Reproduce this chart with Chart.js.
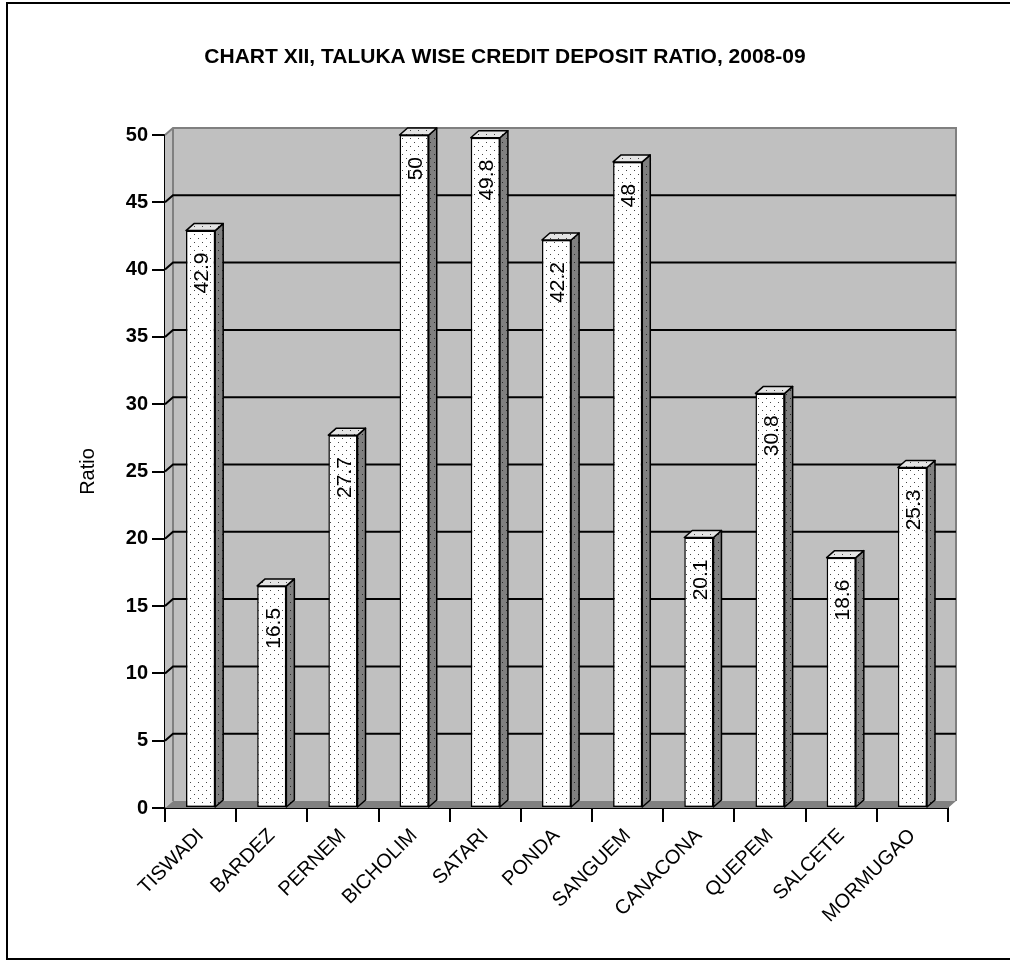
<!DOCTYPE html>
<html>
<head>
<meta charset="utf-8">
<script src="https://cdn.jsdelivr.net/npm/chart.js@4.4.1/dist/chart.umd.min.js"></script>
<style>
  html, body { margin: 0; padding: 0; background: #fff; }
  #wrap { width: 1010px; height: 960px; position: relative; }
</style>
</head>
<body>
<div id="wrap"><canvas id="cdChart"></canvas></div>
<script>
const talukas = ["TISWADI", "BARDEZ", "PERNEM", "BICHOLIM", "SATARI", "PONDA",
  "SANGUEM", "CANACONA", "QUEPEM", "SALCETE", "MORMUGAO"];
const cdRatio = [42.9, 16.5, 27.7, 50, 49.8, 42.2, 48, 20.1, 30.8, 18.6, 25.3];
const yMin = 0, yMax = 50, yStep = 5;
const chartTitle = "CHART XII, TALUKA WISE CREDIT DEPOSIT RATIO, 2008-09";

const FONT = "Arial, 'Liberation Sans', sans-serif";
const DX = 8, DY = 7; // depth offset of the 3d box

function dotPattern(bg, dot) {
  const c = document.createElement("canvas");
  c.width = 8; c.height = 8;
  const g = c.getContext("2d");
  g.fillStyle = bg; g.fillRect(0, 0, 8, 8);
  g.fillStyle = dot;
  g.fillRect(2, 2, 1, 1);
  g.fillRect(6, 6, 1, 1);
  return c;
}
const ctx = document.getElementById("cdChart").getContext("2d");
const frontFill = ctx.createPattern(dotPattern("#ffffff", "#444444"), "repeat");
const sideFill = ctx.createPattern(dotPattern("#808080", "#2a2a2a"), "repeat");
const topFill = ctx.createPattern(dotPattern("#e4e4e4", "#444444"), "repeat");

// back wall, left wall, floor, gridlines, bar depth faces and labels
const wallPlugin = {
  id: "walls",
  beforeDatasetsDraw(chart) {
    const { ctx, chartArea: a, scales: { y } } = chart;
    const y0 = y.getPixelForValue(yMin);
    const yTop = y.getPixelForValue(yMax);
    ctx.save();
    // back wall
    ctx.fillStyle = "#c0c0c0";
    ctx.fillRect(a.left + DX, yTop - DY, a.right - a.left, y0 - yTop);
    // left wall
    ctx.beginPath();
    ctx.moveTo(a.left, y0);
    ctx.lineTo(a.left, yTop);
    ctx.lineTo(a.left + DX, yTop - DY);
    ctx.lineTo(a.left + DX, y0 - DY);
    ctx.closePath();
    ctx.fillStyle = "#c0c0c0";
    ctx.fill();
    // floor
    ctx.beginPath();
    ctx.moveTo(a.left, y0);
    ctx.lineTo(a.right, y0);
    ctx.lineTo(a.right + DX, y0 - DY);
    ctx.lineTo(a.left + DX, y0 - DY);
    ctx.closePath();
    ctx.fillStyle = "#808080";
    ctx.fill();
    // wall edges
    ctx.strokeStyle = "#808080";
    ctx.lineWidth = 2;
    ctx.beginPath();
    ctx.moveTo(a.left, yTop);
    ctx.lineTo(a.left + DX, yTop - DY);
    ctx.lineTo(a.right + DX, yTop - DY);
    ctx.lineTo(a.right + DX, y0 - DY);
    ctx.moveTo(a.left + DX, yTop - DY);
    ctx.lineTo(a.left + DX, y0 - DY);
    ctx.stroke();
    // gridlines
    ctx.strokeStyle = "#000";
    ctx.lineWidth = 2;
    ctx.beginPath();
    for (let v = yMin + yStep; v < yMax; v += yStep) {
      const py = y.getPixelForValue(v);
      ctx.moveTo(a.left, py);
      ctx.lineTo(a.left + DX, py - DY);
      ctx.lineTo(a.right + DX, py - DY);
    }
    ctx.stroke();
    ctx.restore();
  },
  afterDatasetsDraw(chart) {
    const { ctx } = chart;
    const meta = chart.getDatasetMeta(0);
    ctx.save();
    ctx.lineWidth = 1.5;
    ctx.strokeStyle = "#000";
    ctx.lineJoin = "round";
    meta.data.forEach((bar, i) => {
      const { x, y, base, width } = bar.getProps(["x", "y", "base", "width"], true);
      const l = x - width / 2, r = x + width / 2;
      // side face
      ctx.beginPath();
      ctx.moveTo(r, y);
      ctx.lineTo(r + DX, y - DY);
      ctx.lineTo(r + DX, base - DY);
      ctx.lineTo(r, base);
      ctx.closePath();
      ctx.fillStyle = sideFill;
      ctx.fill();
      ctx.stroke();
      // top face
      ctx.beginPath();
      ctx.moveTo(l, y);
      ctx.lineTo(l + DX, y - DY);
      ctx.lineTo(r + DX, y - DY);
      ctx.lineTo(r, y);
      ctx.closePath();
      ctx.fillStyle = topFill;
      ctx.fill();
      ctx.stroke();
      // value label, rotated, hanging from the top of the bar
      ctx.save();
      ctx.translate(x + 2, y + 22);
      ctx.rotate(-Math.PI / 2);
      ctx.fillStyle = "#000";
      ctx.font = "21px " + FONT;
      ctx.textAlign = "right";
      ctx.textBaseline = "middle";
      ctx.fillText(String(cdRatio[i]), 0, 0);
      ctx.restore();
    });
    ctx.restore();
  },
  afterDraw(chart) {
    const { ctx } = chart;
    ctx.save();
    ctx.fillStyle = "#000";
    ctx.font = "bold 21px " + FONT;
    ctx.textAlign = "center";
    ctx.textBaseline = "middle";
    ctx.fillText(chartTitle, 505, 57);
    ctx.strokeStyle = "#000";
    ctx.lineWidth = 2;
    ctx.strokeRect(7, 3, 1020, 956);
    ctx.restore();
  }
};

new Chart(ctx, {
  type: "bar",
  data: {
    labels: talukas,
    datasets: [{
      label: "Ratio",
      data: cdRatio,
      backgroundColor: frontFill,
      borderColor: "#000",
      borderWidth: 1.5,
      borderSkipped: false,
      barPercentage: 0.41,
      categoryPercentage: 1.0
    }]
  },
  options: {
    responsive: true,
    maintainAspectRatio: false,
    animation: false,
    events: [],
    layout: { padding: { left: 0, right: 62, bottom: 0, top: 135 } },
    plugins: {
      legend: { display: false },
      tooltip: { enabled: false },
      title: { display: false }
    },
    scales: {
      x: {
        offset: true,
        grid: { drawOnChartArea: false, drawTicks: true, tickLength: 14, color: "#000", lineWidth: 2, offset: true },
        border: { display: true, color: "#000", width: 2 },
        ticks: {
          color: "#000",
          font: { family: FONT, size: 20 },
          minRotation: 45,
          maxRotation: 45,
          autoSkip: false,
          padding: 2
        },
        afterFit(s) { s.height = 152; }
      },
      y: {
        min: yMin,
        max: yMax,
        grid: { drawOnChartArea: false, drawTicks: true, tickLength: 13, color: "#000", lineWidth: 2 },
        border: { display: true, color: "#000", width: 2 },
        ticks: {
          stepSize: yStep,
          color: "#000",
          font: { family: FONT, size: 20, weight: "bold" },
          padding: 4
        },
        title: {
          display: true,
          text: "Ratio",
          color: "#000",
          font: { family: FONT, size: 20 },
          padding: { top: 76, bottom: 0 }
        },
        afterFit(s) { s.width = 165; }
      }
    }
  },
  plugins: [wallPlugin]
});
</script>
</body>
</html>
